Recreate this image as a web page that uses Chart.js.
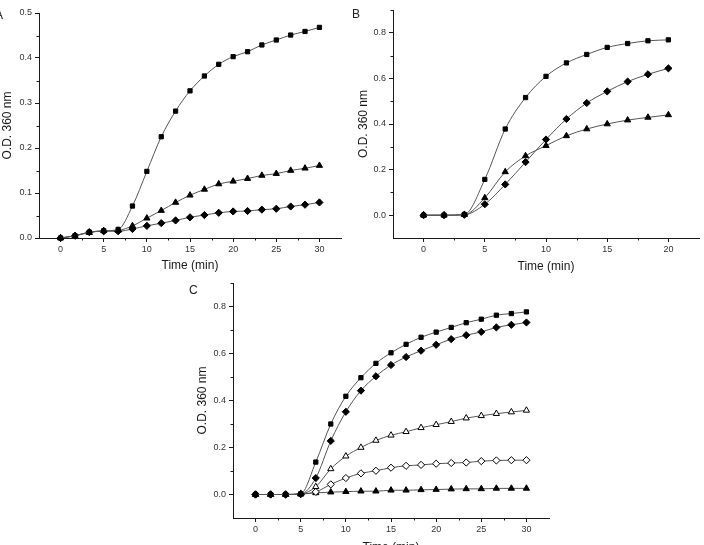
<!DOCTYPE html>
<html>
<head>
<meta charset="utf-8">
<script src="https://cdn.jsdelivr.net/npm/chart.js@4.4.0/dist/chart.umd.min.js"></script>
<style>
  body { margin: 0; width: 704px; height: 545px; overflow: hidden; background: #fff; position: relative;
         font-family: "Liberation Sans", Arial, sans-serif; }
  .panel { position: absolute; }
  .tag { position: absolute; font-size: 12px; color: #222; line-height: 1; }
</style>
</head>
<body>
<div class="panel" style="left:0;top:0"><canvas id="chartA" width="350" height="278"></canvas></div>
<div class="panel" style="left:350px;top:0"><canvas id="chartB" width="354" height="278"></canvas></div>
<div class="panel" style="left:180px;top:272px"><canvas id="chartC" width="400" height="290"></canvas></div>
<div class="tag" style="left:-5px;top:9px">A</div>
<div class="tag" style="left:352px;top:8px">B</div>
<div class="tag" style="left:189px;top:284px">C</div>

<script>
// --- sampling times (min) ---
const timesA = [0, 1.67, 3.33, 5, 6.67, 8.33, 10, 11.67, 13.33, 15, 16.67, 18.33, 20, 21.67, 23.33, 25, 26.67, 28.33, 30];
const timesB = [0, 1.67, 3.33, 5, 6.67, 8.33, 10, 11.67, 13.33, 15, 16.67, 18.33, 20];
const timesC = timesA;

// --- Panel A ---
const aSquare   = [0, 0.005, 0.013, 0.016, 0.019, 0.071, 0.148, 0.225, 0.282, 0.327, 0.360, 0.386, 0.403, 0.414, 0.429, 0.440, 0.451, 0.459, 0.468];
const aTriangle = [0, 0.005, 0.012, 0.016, 0.017, 0.027, 0.044, 0.061, 0.079, 0.095, 0.108, 0.120, 0.126, 0.132, 0.139, 0.143, 0.150, 0.155, 0.161];
const aDiamond  = [0, 0.005, 0.013, 0.015, 0.015, 0.020, 0.027, 0.033, 0.039, 0.046, 0.051, 0.056, 0.059, 0.060, 0.063, 0.065, 0.070, 0.074, 0.079];

// --- Panel B ---
const bSquare   = [0, 0, 0.003, 0.157, 0.378, 0.516, 0.609, 0.668, 0.705, 0.736, 0.753, 0.765, 0.769];
const bTriangle = [0, 0, 0.002, 0.076, 0.190, 0.260, 0.305, 0.348, 0.378, 0.400, 0.417, 0.429, 0.440];
const bDiamond  = [0, 0, 0.002, 0.048, 0.135, 0.233, 0.332, 0.422, 0.492, 0.543, 0.586, 0.618, 0.644];

// --- Panel C ---
const cSquare      = [0, 0, 0, 0.003, 0.138, 0.300, 0.418, 0.497, 0.558, 0.603, 0.639, 0.669, 0.691, 0.711, 0.731, 0.746, 0.763, 0.770, 0.777];
const cDiamond     = [0, 0, 0, 0.002, 0.070, 0.228, 0.352, 0.442, 0.503, 0.551, 0.585, 0.612, 0.637, 0.661, 0.678, 0.692, 0.711, 0.722, 0.732];
const cOpenTri     = [0, 0, 0, 0.002, 0.033, 0.109, 0.163, 0.200, 0.230, 0.252, 0.267, 0.284, 0.297, 0.310, 0.325, 0.335, 0.344, 0.351, 0.358];
const cOpenDiamond = [0, 0, 0, 0.002, 0.011, 0.043, 0.070, 0.090, 0.101, 0.114, 0.122, 0.126, 0.131, 0.134, 0.136, 0.142, 0.145, 0.146, 0.146];
const cTriangle    = [0, 0, 0, 0.002, 0.007, 0.010, 0.012, 0.014, 0.014, 0.018, 0.018, 0.020, 0.021, 0.023, 0.024, 0.024, 0.026, 0.026, 0.026];

// --- tick values ---
const xTicks30 = [0, 5, 10, 15, 20, 25, 30];
const xTicks20 = [0, 5, 10, 15, 20];
const xMinor30 = [2.5, 7.5, 12.5, 17.5, 22.5, 27.5];
const xMinor20 = [2.5, 7.5, 12.5, 17.5];
const yTicksA = [0, 0.1, 0.2, 0.3, 0.4, 0.5];
const yMinorA = [0.05, 0.15, 0.25, 0.35, 0.45];
const yTicksBC = [0, 0.2, 0.4, 0.6, 0.8];
const yMinorBC = [0.1, 0.3, 0.5, 0.7, 0.9];

const INK = '#1a1a1a';

// short minor ticks along the axes
const minorTicks = {
  id: 'minorTicks',
  afterDraw(chart, args, opts) {
    const ctx = chart.ctx;
    ctx.save();
    ctx.strokeStyle = INK;
    ctx.lineWidth = 1;
    (opts.x || []).forEach(v => {
      const s = chart.scales.x;
      const p = Math.round(s.getPixelForValue(v)) + 0.5;
      ctx.beginPath(); ctx.moveTo(p, s.top); ctx.lineTo(p, s.top + 2.5); ctx.stroke();
    });
    (opts.y || []).forEach(v => {
      const s = chart.scales.y;
      const p = Math.round(s.getPixelForValue(v)) + 0.5;
      ctx.beginPath(); ctx.moveTo(s.right, p); ctx.lineTo(s.right - 2.5, p); ctx.stroke();
    });
    ctx.restore();
  }
};

function series(times, vals, style, open) {
  return {
    data: times.map((t, i) => ({ x: t, y: vals[i] })),
    borderColor: '#555',
    borderWidth: 1,
    cubicInterpolationMode: 'monotone',
    pointStyle: style,
    pointRadius: style === 'rect' ? 3 : 3.6,
    pointBackgroundColor: open ? '#fff' : '#000',
    pointBorderColor: '#000',
    pointBorderWidth: 1,
    clip: false
  };
}

function makeChart(id, datasets, cfg) {
  const tickFont = { family: '"Liberation Sans", Arial, sans-serif', size: 9 };
  const titleFont = { family: '"Liberation Sans", Arial, sans-serif', size: 12 };
  return new Chart(document.getElementById(id), {
    type: 'line',
    data: { datasets },
    plugins: [minorTicks],
    options: {
      responsive: false,
      animation: false,
      layout: { padding: cfg.padding },
      plugins: {
        legend: { display: false },
        tooltip: { enabled: false },
        minorTicks: { x: cfg.xMinor, y: cfg.yMinor }
      },
      scales: {
        x: {
          type: 'linear',
          min: cfg.xMin, max: cfg.xMax,
          afterBuildTicks: s => { s.ticks = cfg.xTicks.map(v => ({ value: v })); },
          afterFit: s => { s.height = cfg.xHeight; },
          ticks: { font: tickFont, color: '#333', padding: 2, maxRotation: 0, callback: v => String(v) },
          grid: { drawOnChartArea: false, tickLength: 4, tickColor: INK },
          border: { color: INK, width: 1 },
          title: { display: true, text: 'Time (min)', font: titleFont, color: INK, padding: { top: 0, bottom: cfg.xTitlePad } }
        },
        y: {
          min: cfg.yMin, max: cfg.yMax,
          afterBuildTicks: s => { s.ticks = cfg.yTicks.map(v => ({ value: v })); },
          afterFit: s => { s.width = cfg.yWidth; },
          ticks: { font: tickFont, color: '#333', padding: 3, callback: v => Number(v).toFixed(1) },
          grid: { drawOnChartArea: false, tickLength: 4, tickColor: INK },
          border: { color: INK, width: 1 },
          title: { display: true, text: 'O.D. 360 nm', font: titleFont, color: INK, padding: { top: cfg.yTitlePad, bottom: 0 } }
        }
      }
    }
  });
}

makeChart('chartA', [
  series(timesA, aSquare, 'rect'),
  series(timesA, aTriangle, 'triangle'),
  series(timesA, aDiamond, 'rectRot')
], {
  padding: { left: 0, right: 9, top: 13, bottom: 0 },
  xMin: -2.5, xMax: 32.5, xTicks: xTicks30, xMinor: xMinor30, xHeight: 40, xTitlePad: 5,
  yMin: 0, yMax: 0.5, yTicks: yTicksA, yMinor: yMinorA, yWidth: 39, yTitlePad: 0
});

makeChart('chartB', [
  series(timesB, bSquare, 'rect'),
  series(timesB, bTriangle, 'triangle'),
  series(timesB, bDiamond, 'rectRot')
], {
  padding: { left: 0, right: 4, top: 10, bottom: 0 },
  xMin: -2.5, xMax: 22.5, xTicks: xTicks20, xMinor: xMinor20, xHeight: 40, xTitlePad: 4,
  yMin: -0.1, yMax: 0.9, yTicks: yTicksBC, yMinor: yMinorBC, yWidth: 43, yTitlePad: 6
});

makeChart('chartC', [
  series(timesC, cSquare, 'rect'),
  series(timesC, cDiamond, 'rectRot'),
  series(timesC, cOpenTri, 'triangle', true),
  series(timesC, cOpenDiamond, 'rectRot', true),
  series(timesC, cTriangle, 'triangle')
], {
  padding: { left: 15, right: 31, top: 11, bottom: 0 },
  xMin: -2.5, xMax: 32.5, xTicks: xTicks30, xMinor: xMinor30, xHeight: 44, xTitlePad: 7,
  yMin: -0.1, yMax: 0.9, yTicks: yTicksBC, yMinor: yMinorBC, yWidth: 38, yTitlePad: 0
});
</script>
</body>
</html>
